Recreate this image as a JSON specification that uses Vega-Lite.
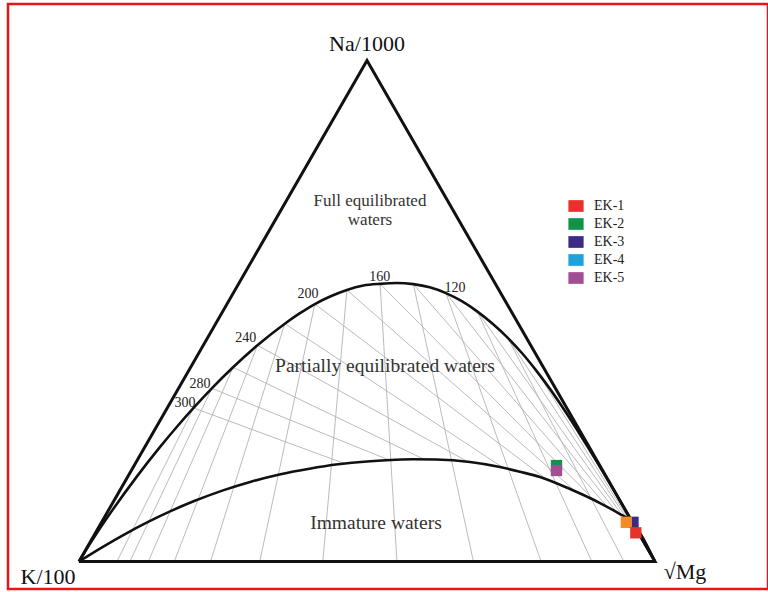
{
  "$schema": "https://vega.github.io/schema/vega-lite/v6.json",
  "width": 760,
  "height": 585,
  "autosize": {"type": "none"},
  "padding": {"left": 8, "top": 4, "right": 0, "bottom": 3},
  "background": "white",
  "config": {
    "view": {"stroke": "#e8141a", "strokeWidth": 2.5},
    "text": {"font": "Liberation Serif", "color": "#222"}
  },
  "datasets": {
    "tri": [
      {"i": 0, "X": 0, "Y": 0},
      {"i": 1, "X": 100, "Y": 0},
      {"i": 2, "X": 50, "Y": 86.6},
      {"i": 3, "X": 0, "Y": 0}
    ],
    "curves": [
      {"c": "full", "X": 0, "Y": 0},
      {"c": "full", "X": 1.13, "Y": 1.86},
      {"c": "full", "X": 1.80, "Y": 2.93},
      {"c": "full", "X": 2.45, "Y": 3.94},
      {"c": "full", "X": 3.55, "Y": 5.61},
      {"c": "full", "X": 5.63, "Y": 8.64},
      {"c": "full", "X": 9.97, "Y": 14.59},
      {"c": "full", "X": 13.90, "Y": 19.59},
      {"c": "full", "X": 17.19, "Y": 23.51},
      {"c": "full", "X": 19.89, "Y": 26.55},
      {"c": "full", "X": 23.06, "Y": 29.93},
      {"c": "full", "X": 26.75, "Y": 33.57},
      {"c": "full", "X": 30.98, "Y": 37.37},
      {"c": "full", "X": 35.73, "Y": 41.11},
      {"c": "full", "X": 38.30, "Y": 42.88},
      {"c": "full", "X": 40.95, "Y": 44.51},
      {"c": "full", "X": 43.70, "Y": 45.85},
      {"c": "full", "X": 46.51, "Y": 46.95},
      {"c": "full", "X": 49.38, "Y": 47.70},
      {"c": "full", "X": 52.27, "Y": 48.00},
      {"c": "full", "X": 55.17, "Y": 48.15},
      {"c": "full", "X": 58.05, "Y": 47.95},
      {"c": "full", "X": 60.89, "Y": 47.40},
      {"c": "full", "X": 63.70, "Y": 46.40},
      {"c": "full", "X": 66.46, "Y": 45.00},
      {"c": "full", "X": 69.17, "Y": 43.20},
      {"c": "full", "X": 71.81, "Y": 41.10},
      {"c": "full", "X": 74.40, "Y": 38.70},
      {"c": "full", "X": 76.93, "Y": 36.00},
      {"c": "full", "X": 79.39, "Y": 33.00},
      {"c": "full", "X": 81.79, "Y": 29.80},
      {"c": "full", "X": 84.09, "Y": 26.46},
      {"c": "full", "X": 86.31, "Y": 23.04},
      {"c": "full", "X": 88.40, "Y": 19.68},
      {"c": "full", "X": 90.36, "Y": 16.48},
      {"c": "full", "X": 92.15, "Y": 13.50},
      {"c": "full", "X": 95.14, "Y": 8.39},
      {"c": "full", "X": 100, "Y": 0},
      {"c": "imm", "X": 0, "Y": 0},
      {"c": "imm", "X": 4, "Y": 2.45},
      {"c": "imm", "X": 8, "Y": 4.75},
      {"c": "imm", "X": 12, "Y": 6.85},
      {"c": "imm", "X": 16, "Y": 8.75},
      {"c": "imm", "X": 20, "Y": 10.45},
      {"c": "imm", "X": 25, "Y": 12.30},
      {"c": "imm", "X": 30, "Y": 13.85},
      {"c": "imm", "X": 35, "Y": 15.10},
      {"c": "imm", "X": 40, "Y": 16.05},
      {"c": "imm", "X": 45, "Y": 16.80},
      {"c": "imm", "X": 50, "Y": 17.30},
      {"c": "imm", "X": 55, "Y": 17.60},
      {"c": "imm", "X": 58, "Y": 17.68},
      {"c": "imm", "X": 62, "Y": 17.63},
      {"c": "imm", "X": 67.88, "Y": 17.20},
      {"c": "imm", "X": 73.09, "Y": 16.34},
      {"c": "imm", "X": 76.56, "Y": 15.52},
      {"c": "imm", "X": 80.03, "Y": 14.61},
      {"c": "imm", "X": 85.24, "Y": 12.53},
      {"c": "imm", "X": 90.45, "Y": 10.11},
      {"c": "imm", "X": 93.92, "Y": 8.21},
      {"c": "imm", "X": 95.66, "Y": 7.17},
      {"c": "imm", "X": 100, "Y": 0}
    ],
    "kmg": [
      {"T": 300, "X": 19.89, "Y": 26.55, "X2": 6.57, "Y2": 0},
      {"T": 280, "X": 23.06, "Y": 29.93, "X2": 8.83, "Y2": 0},
      {"T": 260, "X": 26.75, "Y": 33.57, "X2": 12.03, "Y2": 0},
      {"T": 240, "X": 30.98, "Y": 37.37, "X2": 16.54, "Y2": 0},
      {"T": 220, "X": 35.73, "Y": 41.11, "X2": 22.84, "Y2": 0},
      {"T": 200, "X": 40.95, "Y": 44.51, "X2": 31.38, "Y2": 0},
      {"T": 180, "X": 46.51, "Y": 46.95, "X2": 42.33, "Y2": 0},
      {"T": 160, "X": 52.27, "Y": 48.00, "X2": 55.20, "Y2": 0},
      {"T": 140, "X": 58.05, "Y": 47.95, "X2": 68.48, "Y2": 0},
      {"T": 120, "X": 63.70, "Y": 46.40, "X2": 80.23, "Y2": 0},
      {"T": 100, "X": 69.17, "Y": 43.20, "X2": 89.03, "Y2": 0},
      {"T": 80, "X": 74.40, "Y": 38.70, "X2": 94.60, "Y2": 0}
    ],
    "nak": [
      {"T": 300, "X": 19.89, "Y": 26.55, "X2": 46.18, "Y2": 16.90},
      {"T": 280, "X": 23.06, "Y": 29.93, "X2": 53.82, "Y2": 17.55},
      {"T": 260, "X": 26.75, "Y": 33.57, "X2": 59.90, "Y2": 17.67},
      {"T": 240, "X": 30.98, "Y": 37.37, "X2": 67.53, "Y2": 17.23},
      {"T": 220, "X": 35.73, "Y": 41.11, "X2": 73.61, "Y2": 16.22},
      {"T": 200, "X": 40.95, "Y": 44.51, "X2": 81.28, "Y2": 14.11},
      {"T": 180, "X": 46.51, "Y": 46.95, "X2": 86.24, "Y2": 12.08},
      {"T": 160, "X": 52.27, "Y": 48.00, "X2": 89.51, "Y2": 10.55},
      {"T": 140, "X": 58.05, "Y": 47.95, "X2": 91.81, "Y2": 9.36},
      {"T": 120, "X": 63.70, "Y": 46.40, "X2": 93.32, "Y2": 8.54},
      {"T": 100, "X": 69.17, "Y": 43.20, "X2": 94.31, "Y2": 7.97},
      {"T": 80, "X": 74.40, "Y": 38.70, "X2": 94.99, "Y2": 7.57},
      {"T": 60, "X": 79.39, "Y": 33.00, "X2": 95.44, "Y2": 7.30}
    ],
    "tlabels": [
      {"label": "160", "X": 52.20, "Y": 48.57},
      {"label": "200", "X": 39.76, "Y": 45.55},
      {"label": "120", "X": 65.28, "Y": 46.58},
      {"label": "240", "X": 28.96, "Y": 38.03},
      {"label": "280", "X": 21.01, "Y": 29.99},
      {"label": "300", "X": 18.40, "Y": 26.79}
    ],
    "fulltext": [
      {"label": "Full equilibrated", "X": 50.52, "Y": 61.45},
      {"label": "waters", "X": 50.52, "Y": 58.17}
    ],
    "regions": [
      {"label": "Partially equilibrated waters", "X": 53.13, "Y": 32.81},
      {"label": "Immature waters", "X": 51.56, "Y": 5.62}
    ],
    "vertices": [
      {"label": "Na/1000", "X": 50.0, "Y": 88.3},
      {"label": "K/100", "X": -5.38, "Y": -3.9},
      {"label": "√Mg", "X": 105.2, "Y": -3.1}
    ],
    "samples": [
      {"sample": "EK-2", "X": 82.90, "Y": 16.59},
      {"sample": "EK-5", "X": 82.90, "Y": 15.73},
      {"sample": "EK-3", "X": 96.18, "Y": 6.78},
      {"sample": "EK-4", "X": 95.02, "Y": 6.78},
      {"sample": "EK-1", "X": 96.67, "Y": 4.96}
    ]
  },
  "encoding": {
    "x": {"field": "X", "type": "quantitative", "scale": {"domain": [-12.326, 119.618], "nice": false, "zero": false}, "axis": null},
    "y": {"field": "Y", "type": "quantitative", "scale": {"domain": [-4.75, 96.37], "nice": false, "zero": false}, "axis": null}
  },
  "layer": [
    {
      "data": {"name": "kmg"},
      "mark": {"type": "rule", "color": "#b3b3b3", "strokeWidth": 0.9},
      "encoding": {"x2": {"field": "X2"}, "y2": {"field": "Y2"}}
    },
    {
      "data": {"name": "nak"},
      "mark": {"type": "rule", "color": "#b3b3b3", "strokeWidth": 0.9},
      "encoding": {"x2": {"field": "X2"}, "y2": {"field": "Y2"}}
    },
    {
      "data": {"name": "curves"},
      "mark": {"type": "line", "color": "#111", "strokeWidth": 2.6, "interpolate": "monotone"},
      "encoding": {"detail": {"field": "c"}}
    },
    {
      "data": {"name": "tri"},
      "mark": {"type": "line", "color": "#111", "strokeWidth": 3, "strokeJoin": "miter"},
      "encoding": {"order": {"field": "i"}}
    },
    {
      "data": {"name": "tlabels"},
      "mark": {"type": "text", "fontSize": 14, "align": "center", "baseline": "alphabetic"},
      "encoding": {"text": {"field": "label"}}
    },
    {
      "data": {"name": "fulltext"},
      "mark": {"type": "text", "fontSize": 17, "align": "center", "baseline": "alphabetic", "color": "#333"},
      "encoding": {"text": {"field": "label"}}
    },
    {
      "data": {"name": "regions"},
      "mark": {"type": "text", "fontSize": 19.5, "align": "center", "baseline": "alphabetic", "color": "#333"},
      "encoding": {"text": {"field": "label"}}
    },
    {
      "data": {"name": "vertices"},
      "mark": {"type": "text", "fontSize": 22, "align": "center", "baseline": "alphabetic", "color": "#111"},
      "encoding": {"text": {"field": "label"}}
    },
    {
      "data": {"name": "samples"},
      "mark": {"type": "point", "shape": "square", "filled": true, "opacity": 1, "size": 128, "strokeWidth": 0},
      "encoding": {
        "color": {"field": "sample", "type": "nominal",
          "scale": {"domain": ["EK-1", "EK-2", "EK-3", "EK-4", "EK-5"], "range": ["#e8312a", "#11934a", "#3c2a85", "#f28b25", "#a34d92"]},
          "legend": null}
      }
    },
    {
      "data": {"name": "samples"},
      "mark": {"type": "point", "shape": "square", "filled": true, "opacity": 0, "size": 10},
      "encoding": {
        "color": {"field": "sample", "type": "nominal",
          "scale": {"domain": ["EK-1", "EK-2", "EK-3", "EK-4", "EK-5"], "range": ["#e8312a", "#11934a", "#3c2a85", "#1ea2dc", "#a34d92"]},
          "legend": {"orient": "none", "legendX": 561, "legendY": 195, "title": null, "padding": 0,
            "symbolType": "M-1.3,-1H1.3V1H-1.3Z", "symbolSize": 137, "symbolOpacity": 1, "symbolStrokeWidth": 0,
            "labelFont": "Liberation Serif", "labelFontSize": 14, "labelColor": "#222", "labelOffset": 11, "rowPadding": 4}}
      }
    }
  ],
  "resolve": {"scale": {"color": "independent"}, "legend": {"color": "independent"}}
}
